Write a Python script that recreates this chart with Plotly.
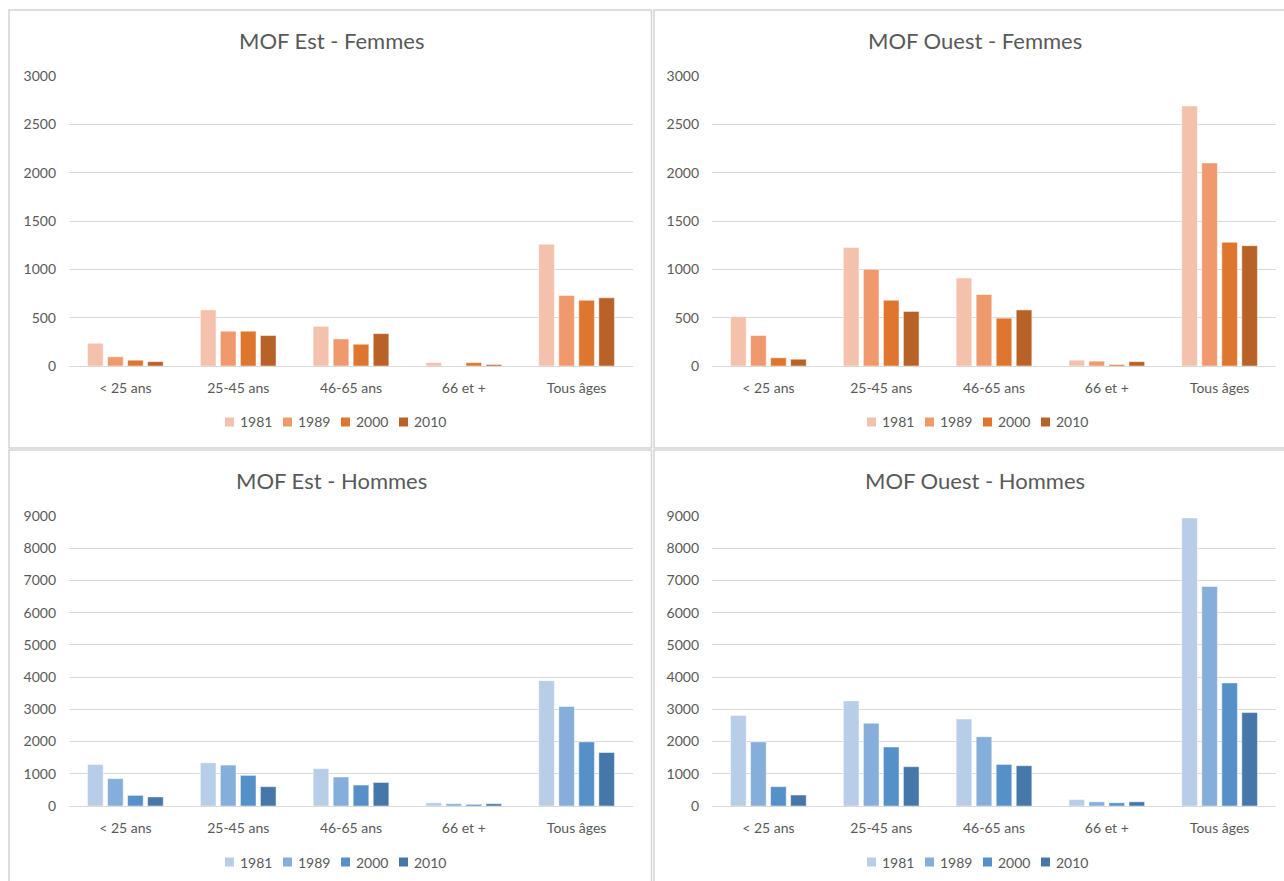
import plotly.graph_objects as go

W, H = 1284, 881

categories = ["< 25 ans", "25-45 ans", "46-65 ans", "66 et +", "Tous âges"]
years = ["1981", "1989", "2000", "2010"]

# MOF Est - Femmes
est_femmes = {
    "1981": [235, 580, 410, 35, 1260],
    "1989": [95, 360, 280, 0, 730],
    "2000": [60, 360, 225, 35, 680],
    "2010": [45, 315, 335, 15, 705],
}
# MOF Ouest - Femmes
ouest_femmes = {
    "1981": [510, 1225, 910, 60, 2690],
    "1989": [315, 1000, 740, 50, 2100],
    "2000": [85, 680, 495, 15, 1280],
    "2010": [70, 565, 580, 45, 1245],
}
# MOF Est - Hommes
est_hommes = {
    "1981": [1290, 1340, 1160, 100, 3890],
    "1989": [850, 1270, 900, 70, 3090],
    "2000": [330, 950, 650, 50, 1990],
    "2010": [280, 600, 730, 70, 1660],
}
# MOF Ouest - Hommes
ouest_hommes = {
    "1981": [2810, 3260, 2700, 200, 8940],
    "1989": [1990, 2570, 2150, 130, 6810],
    "2000": [600, 1830, 1290, 100, 3820],
    "2010": [340, 1220, 1250, 130, 2900],
}

orange = ["#F4C1AC", "#F0996D", "#DF762F", "#B96227"]
blue = ["#B8CDE8", "#85AEDB", "#5590C8", "#4577A8"]

TXT = "#595959"
GRID = "#D9D9D9"
FONT = "Lato, 'Open Sans', sans-serif"

def px_x(p):
    return p / W

def px_y(p):
    return 1 - p / H

panels = [
    ("MOF Est - Femmes", est_femmes, orange, (69, 633), (76, 366), 40, 422, 3000, 500),
    ("MOF Ouest - Femmes", ouest_femmes, orange, (712, 1276), (76, 366), 40, 422, 3000, 500),
    ("MOF Est - Hommes", est_hommes, blue, (69, 633), (516, 806), 480, 862, 9000, 1000),
    ("MOF Ouest - Hommes", ouest_hommes, blue, (712, 1276), (516, 806), 480, 862, 9000, 1000),
]

title_cx = [331, 975, 331, 975]
legend_cx = [335, 977, 335, 977]

fig = go.Figure()
layout = dict(
    template="none",
    width=W, height=H,
    margin=dict(l=0, r=0, t=0, b=0, pad=0, autoexpand=False),
    paper_bgcolor="white", plot_bgcolor="white",
    barmode="group", bargap=0.29, bargroupgap=0.22,
    font=dict(family=FONT, color=TXT, size=14),
    showlegend=False,
)
annotations = []
shapes = []

SQ, GAP_TXT, TXT_W, GAP_ITEM = 9, 4, 33, 12
STEP = SQ + GAP_TXT + TXT_W + GAP_ITEM

for i, (title, data, cols, xr, yr, ty, ly, ymax, dt) in enumerate(panels):
    n = i + 1
    xa = "x" if n == 1 else f"x{n}"
    ya = "y" if n == 1 else f"y{n}"
    for j, yr_name in enumerate(years):
        fig.add_trace(go.Bar(
            x=categories, y=data[yr_name], name=yr_name,
            marker=dict(color=cols[j], line=dict(width=0.8, color="rgba(255,255,255,0.6)")),
            xaxis=xa, yaxis=ya,
        ))
    xkey = "xaxis" if n == 1 else f"xaxis{n}"
    ykey = "yaxis" if n == 1 else f"yaxis{n}"
    layout[xkey] = dict(
        domain=[px_x(xr[0]), px_x(xr[1])], anchor=ya, automargin=False,
        showline=True, linecolor=GRID, linewidth=1, showgrid=False, zeroline=False,
        ticks="", tickfont=dict(size=14, color=TXT), ticklabelstandoff=9,
        fixedrange=True,
    )
    layout[ykey] = dict(
        domain=[px_y(yr[1]), px_y(yr[0])], anchor=xa, automargin=False,
        range=[0, ymax], dtick=dt, tick0=0,
        showgrid=True, gridcolor=GRID, gridwidth=1,
        zeroline=True, zerolinecolor=GRID, zerolinewidth=1,
        showline=False, ticks="", tickfont=dict(size=14, color=TXT),
        ticklabelstandoff=12, fixedrange=True,
    )
    annotations.append(dict(
        text=title, x=px_x(title_cx[i]), y=px_y(ty),
        xref="paper", yref="paper", xanchor="center", yanchor="middle",
        showarrow=False, font=dict(size=22, color=TXT, family=FONT),
    ))
    total = 4 * STEP - GAP_ITEM
    start = legend_cx[i] - total / 2
    for j, yr_name in enumerate(years):
        sx = start + j * STEP
        shapes.append(dict(
            type="rect", xref="paper", yref="paper",
            x0=px_x(sx), x1=px_x(sx + SQ),
            y0=px_y(ly + SQ / 2), y1=px_y(ly - SQ / 2),
            line=dict(width=0), fillcolor=cols[j],
        ))
        annotations.append(dict(
            text=yr_name, x=px_x(sx + SQ + GAP_TXT), y=px_y(ly),
            xref="paper", yref="paper", xanchor="left", yanchor="middle",
            showarrow=False, font=dict(size=14, color=TXT, family=FONT),
        ))

# panel borders
borders = [(9, 10, 651.5, 448), (654, 10, 1300, 448), (9, 450, 651.5, 900), (654, 450, 1300, 900)]
for x0, y0, x1, y1 in borders:
    shapes.append(dict(
        type="rect", xref="paper", yref="paper",
        x0=px_x(x0), x1=px_x(x1), y0=px_y(y1), y1=px_y(y0),
        line=dict(color="#D4D4D4", width=1.5), fillcolor="rgba(0,0,0,0)", layer="below",
    ))

layout["annotations"] = annotations
layout["shapes"] = shapes
fig.update_layout(**layout)

post = (
    "document.documentElement.style.margin='0';"
    "document.documentElement.style.overflow='hidden';"
    "document.body.style.margin='0';"
    "document.body.style.overflow='hidden';"
)

fig.write_html(
    "out.html",
    config={"displayModeBar": False},
    post_script=post,
)
